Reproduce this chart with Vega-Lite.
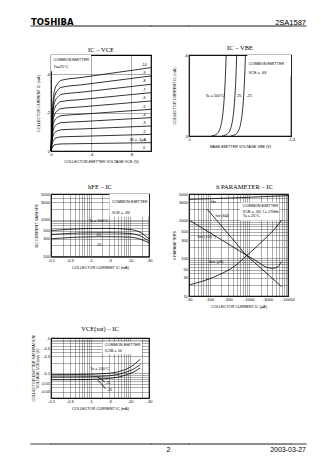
{
"$schema": "https://vega.github.io/schema/vega-lite/v6.json",
"background": "white",
"padding": {"left": 30, "top": 16, "right": 0, "bottom": 0},
"config": {
  "font": "Liberation Sans",
  "view": {"stroke": "#000", "strokeWidth": 1.2},
  "axis": {"grid": true, "gridColor": "#333", "gridWidth": 0.4, "ticks": false, "domain": false, "labelFontSize": 4, "labelColor": "#000", "labelPadding": 1.5, "labelOverlap": false, "labelFlush": false, "titleFontSize": 3.8, "titleFontWeight": "normal", "titleColor": "#000", "titlePadding": 3, "titleLineHeight": 4.3},
  "title": {"font": "Liberation Serif", "fontSize": 6.5, "fontWeight": "normal", "offset": 2, "color": "#000"},
  "line": {"stroke": "#000", "strokeWidth": 0.8, "interpolate": "monotone"},
  "rule": {"stroke": "#666", "strokeWidth": 1.3, "strokeCap": "square"},
  "text": {"fontSize": 3.8, "color": "#000"}
},
"bounds": "flush",
"columns": 5,
"align": "each",
"spacing": {"row": 29, "column": 0},
"concat": [
  {
    "width": 20, "height": 10, "view": {"stroke": null},
    "layer": [
      {"data": {"values": [{}]}, "mark": "rule",
       "encoding": {"x": {"datum": 0, "type": "quantitative", "scale": {"domain": [0, 1]}, "axis": null}, "x2": {"datum": 1}, "y": {"datum": 0, "type": "quantitative", "scale": {"domain": [0, 1]}, "axis": null}}},
      {"data": {"values": [{"label": "TOSHIBA"}]}, "mark": {"type": "text", "align": "left", "baseline": "alphabetic", "dy": -1.5, "font": "DejaVu Sans", "fontWeight": "bold", "fontSize": 8.5},
       "encoding": {"x": {"datum": 0, "type": "quantitative"}, "y": {"datum": 0, "type": "quantitative"}, "text": {"field": "label"}}}
    ]
  },
  {"width": 100, "height": 10, "view": {"stroke": null}, "data": {"values": [{}]}, "mark": "rule",
   "encoding": {"x": {"datum": 0, "type": "quantitative", "scale": {"domain": [0, 1]}, "axis": null}, "x2": {"datum": 1}, "y": {"datum": 0, "type": "quantitative", "scale": {"domain": [0, 1]}, "axis": null}}},
  {"width": 38, "height": 10, "view": {"stroke": null}, "data": {"values": [{}]}, "mark": "rule",
   "encoding": {"x": {"datum": 0, "type": "quantitative", "scale": {"domain": [0, 1]}, "axis": null}, "x2": {"datum": 1}, "y": {"datum": 0, "type": "quantitative", "scale": {"domain": [0, 1]}, "axis": null}}},
  {"width": 102, "height": 10, "view": {"stroke": null}, "data": {"values": [{}]}, "mark": "rule",
   "encoding": {"x": {"datum": 0, "type": "quantitative", "scale": {"domain": [0, 1]}, "axis": null}, "x2": {"datum": 1}, "y": {"datum": 0, "type": "quantitative", "scale": {"domain": [0, 1]}, "axis": null}}},
  {
    "width": 15, "height": 10, "view": {"stroke": null},
    "layer": [
      {"data": {"values": [{}]}, "mark": "rule",
       "encoding": {"x": {"datum": 0, "type": "quantitative", "scale": {"domain": [0, 1]}, "axis": null}, "x2": {"datum": 1}, "y": {"datum": 0, "type": "quantitative", "scale": {"domain": [0, 1]}, "axis": null}}},
      {"data": {"values": [{"label": "2SA1587"}]}, "mark": {"type": "text", "align": "right", "baseline": "alphabetic", "dy": -1.5, "font": "Liberation Sans", "fontSize": 7.5},
       "encoding": {"x": {"datum": 1, "type": "quantitative"}, "y": {"datum": 0, "type": "quantitative"}, "text": {"field": "label"}}}
    ]
  },
  {"width": 20, "height": 110, "view": {"stroke": null}, "data": {"values": []}, "mark": "point"},
  {
    "width": 100, "height": 96,
    "title": {"text": "IC – VCE"},
    "layer": [
      {"data": {"values": [{"x": 0, "x2": -4, "y": -5, "y2": -4.15}]},
       "mark": {"type": "rect", "fill": "white"},
       "encoding": {
         "x": {"field": "x", "type": "quantitative", "scale": {"domain": [0, -10], "nice": false, "zero": false},
               "axis": {"title": "COLLECTOR-EMITTER VOLTAGE  VCE  (V)", "values": [0,-1,-2,-3,-4,-5,-6,-7,-8,-9,-10],
                        "labelExpr": "datum.value % 2 == 0 ? (datum.value == 0 ? '0' : '-' + abs(datum.value)) : ''"}},
         "x2": {"field": "x2"},
         "y": {"field": "y", "type": "quantitative", "scale": {"domain": [0, -5], "nice": false, "zero": false},
               "axis": {"title": "COLLECTOR CURRENT  IC  (mA)", "titlePadding": 5.5, "values": [0,-0.5,-1,-1.5,-2,-2.5,-3,-3.5,-4,-4.5,-5],
                        "labelExpr": "datum.value % 1 == 0 ? (datum.value == 0 ? '0' : '-' + abs(datum.value)) : ''"}},
         "y2": {"field": "y2"}}},
      {"data": {"values": [
        {"x":0,"c1":0,"c2":0,"c3":0,"c4":0,"c5":0,"c6":0,"c7":0,"c8":0,"c9":0,"c10":0},
        {"x":-0.1,"c1":-0.147,"c2":-0.294,"c3":-0.442,"c4":-0.589,"c5":-0.736,"c6":-0.883,"c7":-1.03,"c8":-1.178,"c9":-1.325,"c10":-1.472},
        {"x":-0.2,"c1":-0.258,"c2":-0.515,"c3":-0.773,"c4":-1.03,"c5":-1.288,"c6":-1.546,"c7":-1.803,"c8":-2.061,"c9":-2.318,"c10":-2.576},
        {"x":-0.4,"c1":-0.324,"c2":-0.648,"c3":-0.971,"c4":-1.295,"c5":-1.619,"c6":-1.943,"c7":-2.267,"c8":-2.591,"c9":-2.914,"c10":-3.238},
        {"x":-0.7,"c1":-0.353,"c2":-0.707,"c3":-1.06,"c4":-1.413,"c5":-1.766,"c6":-2.12,"c7":-2.473,"c8":-2.826,"c9":-3.18,"c10":-3.533},
        {"x":-1,"c1":-0.368,"c2":-0.736,"c3":-1.104,"c4":-1.472,"c5":-1.84,"c6":-2.208,"c7":-2.576,"c8":-2.944,"c9":-3.312,"c10":-3.68},
        {"x":-3,"c1":-0.383,"c2":-0.765,"c3":-1.148,"c4":-1.531,"c5":-1.914,"c6":-2.296,"c7":-2.679,"c8":-3.062,"c9":-3.444,"c10":-3.827},
        {"x":-10,"c1":-0.434,"c2":-0.868,"c3":-1.303,"c4":-1.737,"c5":-2.171,"c6":-2.605,"c7":-3.04,"c8":-3.474,"c9":-3.908,"c10":-4.342}
       ]},
       "transform": [{"fold": ["c1","c2","c3","c4","c5","c6","c7","c8","c9","c10"], "as": ["curve", "y"]}],
       "mark": {"type": "line"},
       "encoding": {"x": {"field": "x", "type": "quantitative"}, "y": {"field": "y", "type": "quantitative"}, "detail": {"field": "curve"}}},
      {"data": {"values": [
        {"x": -9.3, "y": -4.5, "t": "-10"}, {"x": -9.3, "y": -4.06, "t": "-9"}, {"x": -9.3, "y": -3.63, "t": "-8"},
        {"x": -9.3, "y": -3.2, "t": "-7"}, {"x": -9.3, "y": -2.76, "t": "-6"}, {"x": -9.3, "y": -2.31, "t": "-5"},
        {"x": -9.3, "y": -1.88, "t": "-4"}, {"x": -9.3, "y": -1.44, "t": "-3"}, {"x": -9.3, "y": -1.0, "t": "-2"},
        {"x": -8.7, "y": -0.58, "t": "IB = -1µA"}, {"x": -9.3, "y": -0.15, "t": "0"}]},
       "mark": {"type": "text", "align": "center", "baseline": "middle"},
       "encoding": {"x": {"field": "x", "type": "quantitative"}, "y": {"field": "y", "type": "quantitative"}, "text": {"field": "t"}}},
      {"data": {"values": [{"x": -0.25, "y": -4.74, "t": "COMMON EMITTER"}, {"x": -0.25, "y": -4.35, "t": "Ta=25°C"}]},
       "mark": {"type": "text", "align": "left", "baseline": "middle"},
       "encoding": {"x": {"field": "x", "type": "quantitative"}, "y": {"field": "y", "type": "quantitative"}, "text": {"field": "t"}}}
    ]
  },
  {"width": 38, "height": 1, "view": {"stroke": null}, "data": {"values": []}, "mark": "point"},
  {
    "width": 102, "height": 81,
    "title": {"text": "IC – VBE"},
    "layer": [
      {"data": {"values": [{"x": -0.8, "x2": -1.4, "y": -6, "y2": -4.4}]},
       "mark": {"type": "rect", "fill": "white"},
       "encoding": {
         "x": {"field": "x", "type": "quantitative", "scale": {"domain": [0, -1.4], "nice": false, "zero": false},
               "axis": {"title": "BASE-EMITTER VOLTAGE  VBE  (V)", "values": [0,-0.1,-0.2,-0.3,-0.4,-0.5,-0.6,-0.7,-0.8,-0.9,-1,-1.1,-1.2,-1.3,-1.4],
                        "labelExpr": "round(datum.value*10) % 2 == 0 ? (datum.value == 0 ? '0' : '-' + format(abs(datum.value), '.1f')) : ''"}},
         "x2": {"field": "x2"},
         "y": {"field": "y", "type": "quantitative", "scale": {"domain": [0, -6], "nice": false, "zero": false},
               "axis": {"title": "COLLECTOR CURRENT  IC  (mA)", "titlePadding": 7, "values": [0,-0.5,-1,-1.5,-2,-2.5,-3,-3.5,-4,-4.5,-5,-5.5,-6],
                        "labelExpr": "datum.value % 1 == 0 ? (datum.value == 0 ? '0' : '-' + abs(datum.value)) : ''"}},
         "y2": {"field": "y2"}}},
      {"data": {"values": [
        {"c":"100","x":-0.31,"y":0},{"c":"100","x":-0.35,"y":-0.062},{"c":"100","x":-0.39,"y":-0.194},{"c":"100","x":-0.42,"y":-0.459},{"c":"100","x":-0.44,"y":-0.812},{"c":"100","x":-0.46,"y":-1.436},{"c":"100","x":-0.475,"y":-2.207},{"c":"100","x":-0.49,"y":-3.39},{"c":"100","x":-0.5,"y":-4.51},{"c":"100","x":-0.51,"y":-6},
        {"c":"25","x":-0.455,"y":0},{"c":"25","x":-0.495,"y":-0.062},{"c":"25","x":-0.535,"y":-0.194},{"c":"25","x":-0.565,"y":-0.459},{"c":"25","x":-0.585,"y":-0.812},{"c":"25","x":-0.605,"y":-1.436},{"c":"25","x":-0.62,"y":-2.207},{"c":"25","x":-0.635,"y":-3.39},{"c":"25","x":-0.645,"y":-4.51},{"c":"25","x":-0.655,"y":-6},
        {"c":"-25","x":-0.575,"y":0},{"c":"-25","x":-0.615,"y":-0.062},{"c":"-25","x":-0.655,"y":-0.194},{"c":"-25","x":-0.685,"y":-0.459},{"c":"-25","x":-0.705,"y":-0.812},{"c":"-25","x":-0.725,"y":-1.436},{"c":"-25","x":-0.74,"y":-2.207},{"c":"-25","x":-0.755,"y":-3.39},{"c":"-25","x":-0.765,"y":-4.51},{"c":"-25","x":-0.775,"y":-6}
       ]},
       "mark": {"type": "line"},
       "encoding": {"x": {"field": "x", "type": "quantitative"}, "y": {"field": "y", "type": "quantitative"}, "detail": {"field": "c"}}},
      {"data": {"values": [{"x": -0.355, "y": -3, "t": "Ta = 100°C"}, {"x": -0.69, "y": -3, "t": "25"}, {"x": -0.825, "y": -3, "t": "-25"}]},
       "mark": {"type": "text", "align": "center", "baseline": "middle"},
       "encoding": {"x": {"field": "x", "type": "quantitative"}, "y": {"field": "y", "type": "quantitative"}, "text": {"field": "t"}}},
      {"data": {"values": [{"x": -0.82, "y": -5.3, "t": "COMMON EMITTER"}, {"x": -0.82, "y": -4.7, "t": "VCE = -6V"}]},
       "mark": {"type": "text", "align": "left", "baseline": "middle"},
       "encoding": {"x": {"field": "x", "type": "quantitative"}, "y": {"field": "y", "type": "quantitative"}, "text": {"field": "t"}}}
    ]
  },
  {"width": 0, "height": 0, "view": {"stroke": null}, "data": {"values": []}, "mark": "point"},
  {"width": 20, "height": 115, "view": {"stroke": null}, "data": {"values": []}, "mark": "point"},
  {
    "width": 98, "height": 62.5,
    "title": {"text": "hFE – IC"},
    "layer": [
      {"data": {"values": [{"x": 3, "x2": 30, "y": 1200, "y2": 5000}]},
       "mark": {"type": "rect", "fill": "white"},
       "encoding": {
         "x": {"field": "x", "type": "quantitative", "scale": {"type": "log", "domain": [0.1, 30], "nice": false},
               "axis": {"title": "COLLECTOR CURRENT  IC  (mA)", "values": [0.1,0.2,0.3,0.4,0.5,0.6,0.7,0.8,0.9,1,2,3,4,5,6,7,8,9,10,20,30],
                        "labelExpr": "indexof([0.1,0.3,1,3,10,30], datum.value) >= 0 ? '-' + datum.value : ''"}},
         "x2": {"field": "x2"},
         "y": {"field": "y", "type": "quantitative", "scale": {"type": "log", "domain": [100, 5000], "nice": false},
               "axis": {"title": "DC CURRENT GAIN  hFE", "titlePadding": 2.5, "values": [100,200,300,400,500,600,700,800,900,1000,2000,3000,4000,5000],
                        "labelExpr": "indexof([100,300,500,1000,3000,5000], datum.value) >= 0 ? '' + datum.value : ''"}},
         "y2": {"field": "y2"}}},
      {"data": {"values": [
        {"c":"100","x":0.1,"y":510},{"c":"100","x":0.3,"y":550},{"c":"100","x":1,"y":577},{"c":"100","x":3,"y":580},{"c":"100","x":10,"y":542},{"c":"100","x":17,"y":469},{"c":"100","x":30,"y":303},
        {"c":"25","x":0.1,"y":396},{"c":"25","x":0.3,"y":425},{"c":"25","x":1,"y":441},{"c":"25","x":3,"y":443},{"c":"25","x":10,"y":422},{"c":"25","x":17,"y":372},{"c":"25","x":30,"y":261},
        {"c":"-25","x":0.1,"y":303},{"c":"-25","x":0.3,"y":328},{"c":"-25","x":1,"y":343},{"c":"-25","x":3,"y":345},{"c":"-25","x":10,"y":335},{"c":"-25","x":17,"y":303},{"c":"-25","x":30,"y":236}
       ]},
       "mark": {"type": "line"},
       "encoding": {"x": {"field": "x", "type": "quantitative"}, "y": {"field": "y", "type": "quantitative"}, "detail": {"field": "c"}}},
      {"data": {"values": [{"x": 1.58, "y": 950, "t": "Ta = 100°C"}, {"x": 1.6, "y": 385, "t": "25"}, {"x": 1.6, "y": 205, "t": "-25"}]},
       "mark": {"type": "text", "align": "center", "baseline": "middle"},
       "encoding": {"x": {"field": "x", "type": "quantitative"}, "y": {"field": "y", "type": "quantitative"}, "text": {"field": "t"}}},
      {"data": {"values": [{"x": 3.5, "y": 3000, "t": "COMMON EMITTER"}, {"x": 3.5, "y": 1550, "t": "VCE = -6V"}]},
       "mark": {"type": "text", "align": "left", "baseline": "middle"},
       "encoding": {"x": {"field": "x", "type": "quantitative"}, "y": {"field": "y", "type": "quantitative"}, "text": {"field": "t"}}}
    ]
  },
  {"width": 38, "height": 1, "view": {"stroke": null}, "data": {"values": []}, "mark": "point"},
  {
    "width": 99, "height": 102,
    "title": {"text": "h  PARAMETER – IC", "dx": 6},
    "layer": [
      {"data": {"values": [{"x": 600, "x2": 6000, "y": 1000, "y2": 3000}]},
       "mark": {"type": "rect", "fill": "white"},
       "encoding": {
         "x": {"field": "x", "type": "quantitative", "scale": {"type": "log", "domain": [30, 10000], "nice": false},
               "axis": {"title": "COLLECTOR CURRENT  IC  (µA)", "values": [30,40,50,60,70,80,90,100,200,300,400,500,600,700,800,900,1000,2000,3000,4000,5000,6000,7000,8000,9000,10000],
                        "labelExpr": "indexof([30,100,300,1000,3000,10000], datum.value) >= 0 ? '-' + datum.value : ''"}},
         "x2": {"field": "x2"},
         "y": {"field": "y", "type": "quantitative", "scale": {"type": "log", "domain": [10, 5000], "nice": false},
               "axis": {"title": "h  PARAMETERS", "titlePadding": 2, "values": [10,20,30,40,50,60,70,80,90,100,200,300,400,500,600,700,800,900,1000,2000,3000,4000,5000],
                        "labelExpr": "indexof([10,30,50,100,300,500,1000,3000,5000], datum.value) >= 0 ? '' + datum.value : ''"}},
         "y2": {"field": "y2"}}},
      {"data": {"values": [
        {"c":"hfe","x":30,"y":3600},{"c":"hfe","x":100,"y":3750},{"c":"hfe","x":300,"y":3900},{"c":"hfe","x":1000,"y":4100},{"c":"hfe","x":3000,"y":4300},{"c":"hfe","x":10000,"y":4500},
        {"c":"hie","x":88,"y":1965},{"c":"hie","x":171,"y":872},{"c":"hie","x":441,"y":274},{"c":"hie","x":855,"y":122},{"c":"hie","x":1656,"y":66},{"c":"hie","x":2924,"y":39},{"c":"hie","x":6850,"y":17.7},
        {"c":"hre","x":30,"y":1026},{"c":"hre","x":171,"y":340},{"c":"hre","x":855,"y":122},{"c":"hre","x":1656,"y":81},{"c":"hre","x":2924,"y":57},{"c":"hre","x":3883,"y":54},{"c":"hre","x":5150,"y":57},{"c":"hre","x":6850,"y":81},
        {"c":"hoe","x":30,"y":19.5},{"c":"hoe","x":171,"y":36},{"c":"hoe","x":441,"y":62},{"c":"hoe","x":855,"y":114},{"c":"hoe","x":1656,"y":210},{"c":"hoe","x":2924,"y":372},{"c":"hoe","x":5150,"y":684},{"c":"hoe","x":6850,"y":1026}
       ]},
       "mark": {"type": "line"},
       "encoding": {"x": {"field": "x", "type": "quantitative"}, "y": {"field": "y", "type": "quantitative"}, "detail": {"field": "c"}}},
      {"data": {"values": [{"x": 107, "y": 3050, "t": "hfe"}, {"x": 142, "y": 1310, "t": "hie (kΩ)"}, {"x": 50, "y": 357, "t": "hre (×10⁻⁴)"}, {"x": 97, "y": 81, "t": "hoe (µS)"},
                           {"x": 707, "y": 2400, "t": "COMMON EMITTER"}, {"x": 707, "y": 1660, "t": "VCE = -6V, f = 270Hz"}, {"x": 707, "y": 1310, "t": "Ta = 25°C"}]},
       "mark": {"type": "text", "align": "left", "baseline": "middle"},
       "encoding": {"x": {"field": "x", "type": "quantitative"}, "y": {"field": "y", "type": "quantitative"}, "text": {"field": "t"}}}
    ]
  },
  {"width": 0, "height": 0, "view": {"stroke": null}, "data": {"values": []}, "mark": "point"},
  {"width": 20, "height": 77, "view": {"stroke": null}, "data": {"values": []}, "mark": "point"},
  {
    "width": 98, "height": 60,
    "title": {"text": "VCE(sat) – IC"},
    "layer": [
      {"data": {"values": [{"x": 2, "x2": 20, "y": 0.35, "y2": 0.8}]},
       "mark": {"type": "rect", "fill": "white"},
       "encoding": {
         "x": {"field": "x", "type": "quantitative", "scale": {"type": "log", "domain": [0.1, 30], "nice": false},
               "axis": {"title": "COLLECTOR CURRENT  IC  (mA)", "values": [0.1,0.2,0.3,0.4,0.5,0.6,0.7,0.8,0.9,1,2,3,4,5,6,7,8,9,10,20,30],
                        "labelExpr": "indexof([0.1,0.3,1,3,10,30], datum.value) >= 0 ? '-' + datum.value : ''"}},
         "x2": {"field": "x2"},
         "y": {"field": "y", "type": "quantitative", "scale": {"type": "log", "domain": [0.02, 1], "nice": false},
               "axis": {"title": ["COLLECTOR-EMITTER SATURATION", "VOLTAGE   VCE(sat)  (V)"], "titlePadding": 1, "values": [0.02,0.03,0.04,0.05,0.06,0.07,0.08,0.09,0.1,0.2,0.3,0.4,0.5,0.6,0.7,0.8,0.9,1],
                        "labelExpr": "indexof([0.03,0.05,0.1,0.3,0.5,1], datum.value) >= 0 ? '-' + datum.value : ''"}},
         "y2": {"field": "y2"}}},
      {"data": {"values": [
        {"c":"100","x":0.1,"y":0.092},{"c":"100","x":0.3,"y":0.092},{"c":"100","x":1,"y":0.094},{"c":"100","x":3,"y":0.1},{"c":"100","x":5,"y":0.11},{"c":"100","x":8,"y":0.13},{"c":"100","x":12,"y":0.17},{"c":"100","x":18,"y":0.25},
        {"c":"25","x":0.1,"y":0.079},{"c":"25","x":0.3,"y":0.079},{"c":"25","x":1,"y":0.08},{"c":"25","x":3,"y":0.085},{"c":"25","x":5,"y":0.093},{"c":"25","x":8,"y":0.108},{"c":"25","x":12,"y":0.13},{"c":"25","x":18,"y":0.175},
        {"c":"-25","x":0.1,"y":0.066},{"c":"-25","x":0.3,"y":0.066},{"c":"-25","x":1,"y":0.067},{"c":"-25","x":3,"y":0.072},{"c":"-25","x":5,"y":0.078},{"c":"-25","x":8,"y":0.09},{"c":"-25","x":12,"y":0.107},{"c":"-25","x":18,"y":0.142},
        {"c":"l1","x":1.5,"y":0.079},{"c":"l1","x":2.3,"y":0.057},
        {"c":"l2","x":1.5,"y":0.066},{"c":"l2","x":2.4,"y":0.037}
       ]},
       "mark": {"type": "line", "interpolate": "linear"},
       "encoding": {"x": {"field": "x", "type": "quantitative"}, "y": {"field": "y", "type": "quantitative"}, "detail": {"field": "c"}}},
      {"data": {"values": [{"x": 1.7, "y": 0.13, "t": "Ta = 100°C"}, {"x": 2.8, "y": 0.054, "t": "25"}, {"x": 3.0, "y": 0.034, "t": "-25"}]},
       "mark": {"type": "text", "align": "center", "baseline": "middle"},
       "encoding": {"x": {"field": "x", "type": "quantitative"}, "y": {"field": "y", "type": "quantitative"}, "text": {"field": "t"}}},
      {"data": {"values": [{"x": 2.3, "y": 0.64, "t": "COMMON EMITTER"}, {"x": 2.3, "y": 0.42, "t": "IC/IB = 10"}]},
       "mark": {"type": "text", "align": "left", "baseline": "middle"},
       "encoding": {"x": {"field": "x", "type": "quantitative"}, "y": {"field": "y", "type": "quantitative"}, "text": {"field": "t"}}}
    ]
  },
  {"width": 0, "height": 0, "view": {"stroke": null}, "data": {"values": []}, "mark": "point"},
  {"width": 0, "height": 0, "view": {"stroke": null}, "data": {"values": []}, "mark": "point"},
  {"width": 0, "height": 0, "view": {"stroke": null}, "data": {"values": []}, "mark": "point"},
  {"width": 20, "height": 10, "view": {"stroke": null}, "data": {"values": [{}]}, "mark": "rule",
   "encoding": {"x": {"datum": 0, "type": "quantitative", "scale": {"domain": [0, 1]}, "axis": null}, "x2": {"datum": 1}, "y": {"datum": 1, "type": "quantitative", "scale": {"domain": [0, 1]}, "axis": null}}},
  {"width": 100, "height": 10, "view": {"stroke": null}, "data": {"values": [{}]}, "mark": "rule",
   "encoding": {"x": {"datum": 0, "type": "quantitative", "scale": {"domain": [0, 1]}, "axis": null}, "x2": {"datum": 1}, "y": {"datum": 1, "type": "quantitative", "scale": {"domain": [0, 1]}, "axis": null}}},
  {
    "width": 38, "height": 10, "view": {"stroke": null},
    "layer": [
      {"data": {"values": [{}]}, "mark": "rule",
       "encoding": {"x": {"datum": 0, "type": "quantitative", "scale": {"domain": [0, 1]}, "axis": null}, "x2": {"datum": 1}, "y": {"datum": 1, "type": "quantitative", "scale": {"domain": [0, 1]}, "axis": null}}},
      {"data": {"values": [{"label": "2"}]}, "mark": {"type": "text", "align": "center", "baseline": "top", "dy": 2, "fontSize": 7},
       "encoding": {"x": {"datum": 0.46, "type": "quantitative"}, "y": {"datum": 1, "type": "quantitative"}, "text": {"field": "label"}}}
    ]
  },
  {"width": 102, "height": 10, "view": {"stroke": null}, "data": {"values": [{}]}, "mark": "rule",
   "encoding": {"x": {"datum": 0, "type": "quantitative", "scale": {"domain": [0, 1]}, "axis": null}, "x2": {"datum": 1}, "y": {"datum": 1, "type": "quantitative", "scale": {"domain": [0, 1]}, "axis": null}}},
  {
    "width": 15, "height": 10, "view": {"stroke": null},
    "layer": [
      {"data": {"values": [{}]}, "mark": "rule",
       "encoding": {"x": {"datum": 0, "type": "quantitative", "scale": {"domain": [0, 1]}, "axis": null}, "x2": {"datum": 1}, "y": {"datum": 1, "type": "quantitative", "scale": {"domain": [0, 1]}, "axis": null}}},
      {"data": {"values": [{"label": "2003-03-27"}]}, "mark": {"type": "text", "align": "right", "baseline": "top", "dy": 2, "fontSize": 7},
       "encoding": {"x": {"datum": 1, "type": "quantitative"}, "y": {"datum": 1, "type": "quantitative"}, "text": {"field": "label"}}}
    ]
  }
]
}
